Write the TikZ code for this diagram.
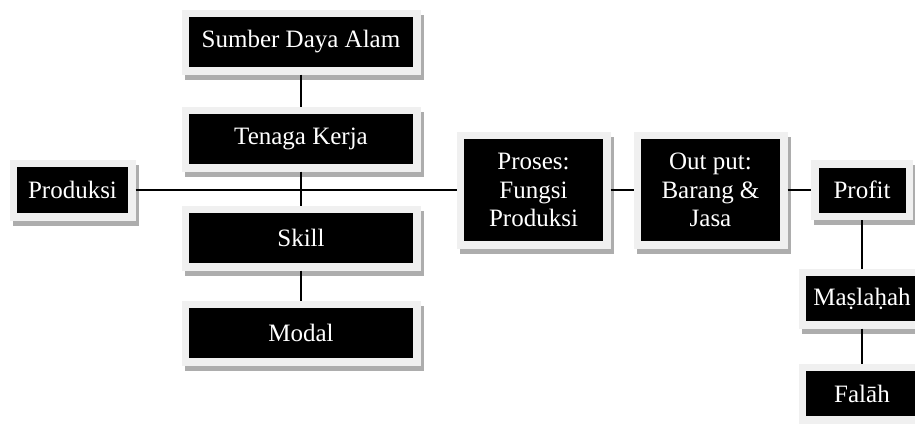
\documentclass[tikz,border=0pt]{standalone}
\usepackage{fontspec}
\setmainfont{Liberation Serif}
\usetikzlibrary{shadows}
\definecolor{framegray}{HTML}{F0F0F0}
\definecolor{shadowgray}{HTML}{ADADAD}
\tikzset{
	kotak/.style={fill=black, draw=framegray, line width=7.5pt, text=white, align=center, inner sep=0pt,
		font=\fontsize{25}{28.5}\selectfont,
		general shadow={draw=shadowgray, fill=shadowgray, line width=7.5pt, shadow xshift=3pt, shadow yshift=-5pt}},
	lebar/.style={minimum width=231.5pt, minimum height=57.5pt},
	garis/.style={line width=1.2pt}
}
\begin{document}
\begin{tikzpicture}[x=1pt,y=-1pt]
					\clip (0,0) rectangle (915,423);
					\node[kotak, lebar] (sda) at (301,42) {Sumber Daya Alam};
					\node[kotak, lebar] (tenaga) at (301,139) {Tenaga Kerja};
					\node[kotak, lebar] (skill) at (301,238) {Skill};
					\node[kotak, lebar] (modal) at (301,333) {Modal};
					\node[kotak, minimum width=118.5pt, minimum height=53.5pt] (produksi) at (72.5,190) {Produksi};
					\node[kotak, minimum width=146.5pt, minimum height=109.5pt] (proses) at (533.5,190) {Proses:\\Fungsi\\Produksi};
					\node[kotak, minimum width=146.5pt, minimum height=109.5pt] (output) at (710.5,190) {Out put:\\Barang \&\\Jasa};
					\node[kotak, minimum width=94.5pt, minimum height=52.5pt] (profit) at (862,190) {Profit};
					\node[kotak, minimum width=119.5pt, minimum height=52.5pt] (maslahah) at (862,298.5) {Maṣlaḥah};
					\node[kotak, minimum width=119.5pt, minimum height=52.5pt] (falah) at (862,393.5) {Falāh};
					\draw[garis] (produksi) -- (proses);
					\draw[garis] (proses) -- (output);
					\draw[garis] (output) -- (profit);
					\draw[garis] (sda) -- (tenaga);
					\draw[garis] (tenaga) -- (skill);
					\draw[garis] (skill) -- (modal);
					\draw[garis] (profit) -- (maslahah);
					\draw[garis] (maslahah) -- (falah);
				\end{tikzpicture}
\end{document}
